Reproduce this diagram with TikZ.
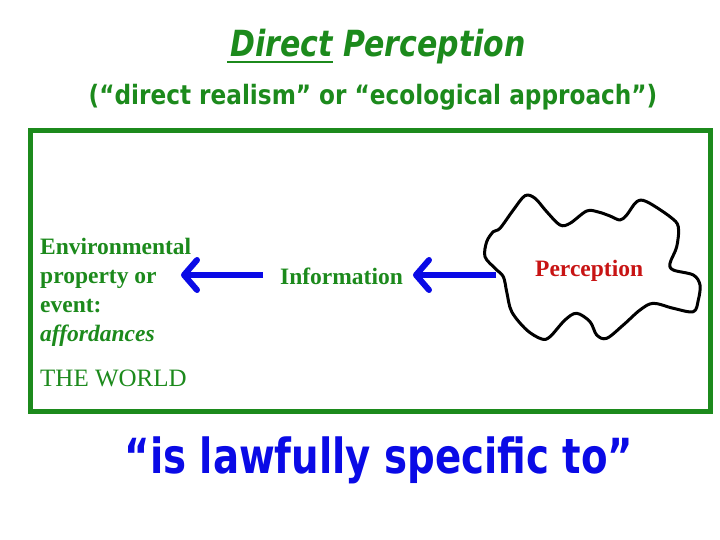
\documentclass[tikz,border=0pt]{standalone}
\usepackage{fontspec}
\setmainfont{Liberation Serif}
\newfontfamily\comicfont{DejaVu Sans}
\usetikzlibrary{arrows.meta}
\definecolor{wgreen}{RGB}{28,138,28}
\definecolor{wblue}{RGB}{10,10,230}
\definecolor{wred}{RGB}{200,20,20}
\tikzset{
  lbl/.style={inner sep=0pt, text=wgreen, font=\fontsize{23.5}{28.7}\selectfont\bfseries},
  bluearrow/.style={draw=wblue, line width=6pt, -{Straight Barb[length=13pt,width=30pt,round]}},
  frame/.style={draw=wgreen, line width=5pt},
}
\begin{document}
\begin{tikzpicture}[x=1pt,y=-1pt]
\useasboundingbox (0,0) rectangle (720,540);
\fill[white] (0,0) rectangle (720,540);
% title
\node[inner sep=0pt, anchor=base, text=wgreen, font=\comicfont\fontsize{30}{36}\selectfont\bfseries\itshape] (title) at (378,57) {\scalebox{1}[1.2]{Direct Perception}};
\draw[wgreen, line width=2pt] (227,62) -- (333,62);
\node[inner sep=0pt, anchor=base, text=wgreen, font=\comicfont\fontsize{23.2}{28}\selectfont\bfseries] (sub) at (373,105) {\scalebox{1}[1.15]{(“direct realism” or “ecological approach”)}};
% frame
\node[frame, inner sep=0pt, minimum width=680pt, minimum height=281pt, anchor=north west] (world) at (28,128) {};
% texts
\node[lbl, anchor=base west, align=left] (env) at (40,341) {Environmental\\property or\\event:\\\textit{affordances}};
\node[lbl, anchor=base west] (info) at (280,284) {Information};
\node[lbl, anchor=base west, font=\fontsize{25}{30}\selectfont] (theworld) at (40,386) {THE WORLD};
% cloud
\draw[line width=3pt, black, line join=round] plot[smooth cycle, tension=0.55] coordinates {
 (493.3,231.7) (500,228.3) (513.3,210) (525,195.7) (535,198.3) (546.7,211.7)
 (560,225) (570,223.3) (586.7,211) (598.3,212) (610,216) (620,220) (626.7,215)
 (636.7,201.7) (646.7,201.7) (670,216.7) (678.3,226.7) (676.7,246.7) (670,263.3)
 (673.3,270) (693.3,275) (700,285) (698.3,300) (693.3,311.7) (673.3,308.3)
 (653.3,303.3) (640,310) (623.3,325) (606.7,338.3) (596.7,335) (590,321.7)
 (576.7,313.3) (565,320) (550,336.7) (541.7,339) (526.7,330) (511.7,311.7)
 (506.7,291.7) (503.3,276.7) (495,268.3) (485,256.7) (486.7,241.7)};
\node[lbl, anchor=base west, text=wred] (perc) at (535,276) {Perception};
% arrows
\coordinate (cloudedge) at (496,275);
\coordinate (infotip) at (413,275);
\coordinate (infotail) at (263,275);
\coordinate (envtip) at (181,275);
\draw[bluearrow] (cloudedge) -- (infotip);
\draw[bluearrow] (infotail) -- (envtip);
% bottom
\node[inner sep=0pt, anchor=base, text=wblue, font=\comicfont\fontsize{38.7}{46}\selectfont\bfseries] (law) at (379,473) {\scalebox{1}[1.25]{“is lawfully specific to”}};
\end{tikzpicture}
\end{document}
